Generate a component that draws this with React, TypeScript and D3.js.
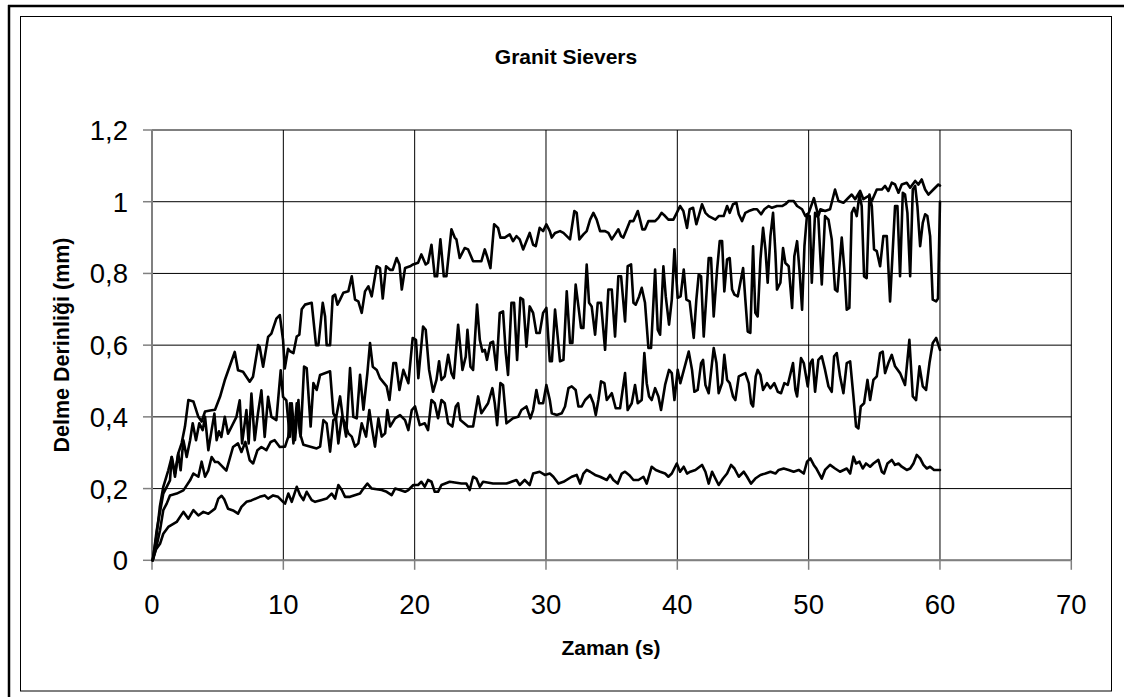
import React from "react";
import * as d3 from "d3";

const title = "Granit Sievers";
const xTitle = "Zaman (s)";
const yTitle = "Delme Derinliği (mm)";
const xTicks = [0, 10, 20, 30, 40, 50, 60, 70];
const yTicks = [0, 0.2, 0.4, 0.6, 0.8, 1.0, 1.2];

const series1: [number, number][] = [[0.05,0],[0.1,0.01],[0.36,0.084],[0.86,0.186],[1.37,0.223],[1.5,0.288],[1.75,0.233],[2.0,0.298],[2.26,0.327],[2.51,0.373],[2.77,0.447],[3.15,0.443],[3.53,0.40],[3.78,0.387],[4.04,0.415],[4.42,0.418],[4.8,0.42],[5.18,0.456],[5.54,0.502],[6.3,0.581],[6.55,0.53],[6.93,0.526],[7.44,0.498],[7.69,0.512],[8.08,0.60],[8.2,0.595],[8.46,0.54],[8.84,0.623],[9.09,0.632],[9.47,0.674],[9.73,0.684],[9.98,0.614],[10.11,0.535],[10.36,0.59],[10.51,0.583],[10.77,0.578],[11.02,0.624],[11.22,0.629],[11.4,0.70],[11.65,0.713],[12.16,0.718],[12.49,0.60],[12.67,0.60],[13.0,0.718],[13.18,0.68],[13.3,0.60],[13.56,0.60],[13.76,0.736],[13.94,0.741],[14.12,0.713],[14.32,0.727],[14.57,0.746],[14.95,0.75],[15.21,0.792],[15.46,0.727],[15.71,0.722],[15.97,0.69],[16.22,0.75],[16.48,0.764],[16.73,0.736],[17.11,0.82],[17.36,0.815],[17.57,0.73],[17.82,0.82],[18.13,0.81],[18.33,0.81],[18.63,0.843],[18.84,0.825],[19.02,0.755],[19.27,0.815],[19.65,0.82],[19.88,0.825],[20.26,0.83],[20.51,0.853],[20.84,0.825],[21.02,0.83],[21.28,0.88],[21.53,0.792],[21.71,0.792],[21.96,0.895],[22.22,0.792],[22.42,0.792],[22.8,0.923],[23.05,0.90],[23.18,0.895],[23.43,0.843],[23.81,0.871],[24.07,0.867],[24.45,0.834],[25.08,0.834],[25.34,0.867],[25.51,0.848],[25.77,0.815],[26.05,0.937],[26.35,0.927],[26.53,0.90],[26.86,0.90],[27.24,0.909],[27.49,0.89],[27.75,0.904],[28.0,0.895],[28.26,0.867],[28.51,0.89],[28.76,0.913],[29.02,0.88],[29.22,0.876],[29.52,0.927],[29.78,0.918],[30.03,0.937],[30.29,0.918],[30.44,0.90],[30.69,0.913],[31.07,0.918],[31.33,0.913],[31.58,0.904],[31.83,0.895],[32.16,0.974],[32.34,0.969],[32.54,0.895],[32.85,0.909],[33.1,0.918],[33.36,0.95],[33.61,0.969],[33.86,0.95],[34.12,0.918],[34.5,0.918],[34.75,0.913],[35.01,0.895],[35.26,0.909],[35.51,0.923],[35.72,0.904],[35.89,0.90],[36.15,0.923],[36.4,0.946],[36.66,0.946],[36.99,0.974],[37.16,0.95],[37.34,0.923],[37.54,0.923],[37.8,0.946],[38.31,0.946],[38.56,0.955],[38.81,0.969],[39.07,0.96],[39.32,0.95],[39.7,0.95],[39.96,0.969],[40.21,0.988],[40.46,0.974],[40.74,0.927],[40.94,0.979],[41.2,0.983],[41.45,0.937],[41.63,0.96],[41.88,0.993],[42.14,0.969],[42.39,0.96],[42.9,0.95],[43.15,0.96],[43.53,0.96],[43.79,0.988],[43.99,0.969],[44.24,0.993],[44.5,0.997],[44.68,0.965],[44.93,0.946],[45.18,0.969],[45.44,0.974],[45.82,0.979],[46.07,0.979],[46.38,0.965],[46.63,0.979],[46.96,0.988],[47.21,0.983],[47.59,0.988],[47.98,0.988],[48.23,0.993],[48.48,1.002],[48.86,1.002],[49.12,0.988],[49.5,0.979],[49.75,0.96],[50.01,0.969],[50.4,1.01],[50.74,0.96],[50.9,0.979],[51.25,0.974],[51.63,0.979],[52.01,1.034],[52.27,1.002],[52.65,0.997],[53.03,1.011],[53.28,1.02],[53.54,1.007],[53.92,1.03],[54.17,1.007],[54.55,1.016],[54.81,1.002],[55.19,1.034],[55.57,1.034],[55.82,1.044],[56.07,1.03],[56.33,1.053],[56.58,1.048],[56.84,1.025],[57.09,1.048],[57.47,1.053],[57.73,1.039],[58.11,1.058],[58.36,1.048],[58.61,1.062],[58.87,1.034],[59.12,1.02],[59.5,1.034],[59.88,1.048],[60.0,1.045]];

const series2: [number, number][] = [[0.05,0],[0.35,0.07],[0.6,0.15],[0.86,0.205],[1.24,0.251],[1.5,0.288],[1.75,0.242],[2.0,0.298],[2.18,0.251],[2.39,0.335],[2.64,0.288],[2.9,0.335],[3.1,0.382],[3.35,0.335],[3.6,0.382],[3.86,0.363],[4.04,0.40],[4.29,0.307],[4.54,0.363],[4.75,0.409],[4.92,0.335],[5.1,0.36],[5.28,0.344],[5.54,0.40],[5.79,0.353],[6.43,0.40],[6.68,0.446],[6.86,0.326],[7.19,0.419],[7.36,0.326],[7.57,0.465],[7.82,0.335],[8.07,0.41],[8.33,0.474],[8.58,0.344],[8.84,0.456],[9.09,0.40],[9.47,0.391],[9.8,0.53],[9.98,0.456],[10.23,0.446],[10.49,0.344],[10.64,0.438],[10.89,0.335],[11.15,0.447],[11.32,0.345],[11.58,0.54],[11.78,0.536],[12.08,0.373],[12.29,0.494],[12.54,0.475],[12.8,0.517],[13.56,0.527],[13.81,0.41],[14.01,0.396],[14.32,0.457],[14.52,0.40],[14.78,0.345],[15.08,0.536],[15.33,0.40],[15.59,0.396],[15.84,0.517],[16.1,0.42],[16.4,0.522],[16.6,0.606],[16.81,0.54],[17.11,0.531],[17.36,0.508],[17.87,0.485],[18.08,0.447],[18.38,0.55],[18.58,0.55],[18.84,0.475],[19.14,0.531],[19.52,0.494],[19.85,0.62],[20.1,0.615],[20.28,0.508],[20.64,0.652],[20.84,0.643],[21.1,0.531],[21.4,0.47],[21.66,0.503],[21.86,0.555],[22.04,0.503],[22.29,0.513],[22.55,0.573],[22.8,0.522],[22.98,0.508],[23.31,0.657],[23.64,0.531],[23.89,0.568],[24.02,0.643],[24.25,0.54],[24.45,0.531],[24.75,0.713],[24.96,0.615],[25.16,0.582],[25.34,0.587],[25.51,0.559],[25.77,0.606],[25.97,0.61],[26.23,0.531],[26.48,0.69],[26.73,0.694],[26.94,0.578],[27.11,0.517],[27.37,0.718],[27.57,0.718],[27.8,0.559],[28.05,0.732],[28.26,0.727],[28.51,0.596],[28.76,0.708],[29.02,0.69],[29.27,0.634],[29.52,0.634],[29.78,0.69],[30.03,0.704],[30.29,0.555],[30.45,0.555],[30.69,0.699],[30.89,0.624],[31.07,0.555],[31.33,0.559],[31.58,0.75],[31.83,0.606],[32.01,0.606],[32.26,0.769],[32.47,0.708],[32.67,0.648],[32.85,0.648],[33.1,0.825],[33.28,0.718],[33.48,0.708],[33.74,0.629],[33.94,0.718],[34.19,0.718],[34.5,0.587],[34.75,0.755],[35.01,0.755],[35.26,0.624],[35.51,0.792],[35.72,0.792],[36.02,0.666],[36.22,0.82],[36.48,0.825],[36.66,0.718],[36.83,0.713],[37.09,0.736],[37.29,0.76],[37.54,0.718],[37.8,0.592],[38.0,0.592],[38.31,0.811],[38.51,0.643],[38.69,0.629],[38.94,0.82],[39.12,0.736],[39.37,0.657],[39.58,0.727],[39.78,0.867],[40.03,0.732],[40.25,0.736],[40.49,0.811],[40.69,0.727],[40.94,0.722],[41.25,0.62],[41.45,0.727],[41.63,0.797],[41.81,0.792],[42.01,0.624],[42.21,0.736],[42.39,0.843],[42.57,0.843],[42.77,0.68],[43.03,0.811],[43.23,0.89],[43.41,0.89],[43.58,0.75],[43.79,0.839],[43.99,0.843],[44.17,0.755],[44.35,0.741],[44.6,0.736],[45.01,0.815],[45.18,0.727],[45.36,0.638],[45.56,0.634],[45.77,0.876],[45.94,0.69],[46.12,0.68],[46.33,0.839],[46.53,0.927],[46.71,0.867],[46.88,0.774],[47.09,0.904],[47.29,0.969],[47.47,0.857],[47.59,0.755],[47.85,0.774],[48.05,0.871],[48.23,0.829],[48.48,0.82],[48.74,0.704],[48.91,0.848],[49.12,0.89],[49.32,0.801],[49.5,0.699],[49.68,0.876],[49.88,0.965],[50.08,0.96],[50.24,0.774],[50.49,0.969],[50.74,0.955],[51.0,0.769],[51.25,0.96],[51.51,0.95],[51.76,0.895],[52.01,0.755],[52.19,0.75],[52.52,0.90],[52.72,0.811],[52.9,0.699],[53.1,0.704],[53.28,0.969],[53.46,0.983],[53.66,0.96],[53.87,1.02],[54.04,0.988],[54.22,0.792],[54.42,0.787],[54.63,1.02],[54.81,0.988],[54.98,0.867],[55.19,0.862],[55.44,0.82],[55.69,0.904],[55.95,0.904],[56.2,0.722],[56.58,0.988],[56.76,0.988],[56.96,0.792],[57.17,1.025],[57.34,1.02],[57.52,0.969],[57.73,0.792],[57.93,1.034],[58.11,1.044],[58.28,0.988],[58.49,0.876],[58.69,0.941],[58.87,0.965],[59.04,0.96],[59.25,0.904],[59.45,0.727],[59.71,0.722],[59.85,0.73],[60.0,1.0]];

const series3: [number, number][] = [[0.05,0],[0.35,0.04],[0.61,0.084],[0.86,0.14],[1.12,0.158],[1.37,0.181],[1.88,0.186],[2.39,0.195],[2.9,0.223],[3.15,0.242],[3.53,0.233],[3.78,0.275],[4.04,0.233],[4.29,0.251],[4.54,0.288],[4.8,0.274],[5.03,0.274],[5.66,0.25],[6.17,0.316],[6.55,0.326],[6.81,0.302],[7.11,0.33],[7.44,0.279],[7.7,0.27],[8.03,0.307],[8.33,0.316],[8.71,0.307],[9.04,0.33],[9.34,0.335],[9.73,0.316],[10.13,0.317],[10.38,0.345],[10.51,0.438],[10.77,0.326],[11.02,0.438],[11.27,0.354],[11.53,0.322],[12.54,0.312],[12.8,0.317],[13.05,0.391],[13.3,0.382],[13.56,0.303],[13.81,0.391],[14.01,0.396],[14.19,0.326],[14.45,0.40],[14.7,0.382],[14.95,0.354],[15.21,0.345],[15.46,0.317],[15.71,0.326],[15.97,0.382],[16.3,0.345],[16.55,0.419],[16.73,0.373],[16.98,0.317],[17.24,0.396],[17.49,0.345],[17.75,0.354],[17.92,0.419],[18.13,0.373],[18.51,0.396],[18.89,0.405],[19.27,0.391],[19.52,0.363],[19.78,0.419],[20.03,0.429],[20.39,0.377],[20.77,0.382],[21.02,0.363],[21.28,0.447],[21.53,0.438],[21.78,0.396],[22.04,0.447],[22.29,0.438],[22.55,0.382],[22.87,0.373],[23.13,0.429],[23.31,0.438],[23.48,0.391],[24.07,0.373],[24.45,0.373],[24.83,0.457],[25.08,0.41],[25.59,0.438],[25.92,0.48],[26.1,0.438],[26.28,0.377],[26.53,0.494],[26.73,0.489],[26.99,0.382],[27.49,0.396],[27.88,0.40],[28.13,0.419],[28.51,0.429],[28.81,0.396],[29.02,0.419],[29.27,0.475],[29.47,0.438],[29.78,0.438],[30.03,0.489],[30.29,0.447],[30.44,0.41],[30.82,0.405],[31.2,0.41],[31.45,0.429],[31.71,0.48],[31.96,0.485],[32.26,0.475],[32.47,0.429],[32.72,0.429],[32.98,0.447],[33.36,0.461],[33.61,0.438],[33.79,0.405],[33.99,0.447],[34.19,0.499],[34.45,0.494],[34.63,0.447],[35.01,0.466],[35.31,0.424],[35.64,0.424],[36.02,0.522],[36.22,0.419],[36.53,0.438],[36.78,0.489],[36.99,0.438],[37.29,0.447],[37.49,0.578],[37.67,0.494],[37.85,0.457],[38.05,0.447],[38.31,0.48],[38.56,0.457],[38.76,0.419],[39.07,0.489],[39.37,0.531],[39.58,0.522],[39.78,0.447],[40.03,0.531],[40.23,0.494],[40.87,0.582],[41.12,0.531],[41.3,0.47],[41.55,0.475],[41.81,0.55],[41.96,0.559],[42.14,0.489],[42.39,0.466],[42.77,0.592],[42.98,0.55],[43.15,0.466],[43.41,0.494],[43.58,0.573],[43.79,0.503],[43.99,0.494],[44.24,0.457],[44.42,0.447],[44.68,0.513],[45.18,0.522],[45.44,0.494],[45.62,0.438],[45.77,0.429],[45.97,0.513],[46.12,0.531],[46.33,0.517],[46.53,0.475],[46.83,0.494],[47.09,0.48],[47.39,0.494],[47.65,0.47],[47.9,0.466],[48.15,0.494],[48.41,0.489],[48.81,0.55],[48.99,0.475],[49.12,0.457],[49.42,0.564],[49.63,0.55],[49.93,0.485],[50.13,0.55],[50.3,0.56],[50.49,0.47],[50.74,0.559],[51.0,0.569],[51.25,0.531],[51.51,0.485],[51.76,0.47],[51.94,0.569],[52.14,0.578],[52.39,0.513],[52.65,0.466],[52.9,0.55],[53.16,0.555],[53.41,0.457],[53.61,0.373],[53.79,0.368],[53.97,0.429],[54.22,0.438],[54.48,0.503],[54.68,0.447],[54.93,0.503],[55.19,0.513],[55.44,0.578],[55.64,0.582],[55.82,0.522],[56.07,0.55],[56.33,0.573],[56.58,0.541],[56.96,0.522],[57.34,0.489],[57.67,0.615],[57.93,0.457],[58.18,0.447],[58.44,0.541],[58.69,0.485],[58.94,0.475],[59.2,0.55],[59.45,0.606],[59.71,0.62],[60.0,0.587]];

const series4: [number, number][] = [[0.05,0],[0.3,0.03],[0.61,0.046],[0.86,0.074],[1.24,0.093],[1.88,0.107],[2.39,0.135],[2.77,0.116],[3.15,0.14],[3.53,0.125],[3.91,0.135],[4.29,0.13],[4.8,0.144],[5.05,0.172],[5.3,0.18],[5.5,0.17],[5.79,0.144],[6.17,0.139],[6.55,0.13],[6.81,0.149],[7.19,0.163],[7.57,0.167],[8.2,0.177],[8.58,0.181],[8.84,0.172],[9.22,0.181],[9.6,0.177],[9.98,0.163],[10.13,0.158],[10.38,0.186],[10.64,0.163],[11.02,0.205],[11.27,0.182],[11.53,0.168],[11.78,0.191],[12.16,0.168],[12.42,0.163],[12.92,0.168],[13.3,0.172],[13.68,0.186],[13.94,0.172],[14.19,0.21],[14.45,0.196],[14.7,0.177],[15.08,0.177],[15.84,0.186],[16.1,0.20],[16.4,0.214],[16.73,0.20],[17.49,0.196],[17.87,0.191],[18.25,0.182],[18.51,0.20],[18.89,0.196],[19.27,0.191],[19.52,0.196],[19.9,0.21],[20.26,0.21],[20.51,0.219],[20.77,0.205],[21.02,0.224],[21.28,0.219],[21.53,0.191],[21.78,0.191],[22.04,0.21],[22.67,0.219],[23.56,0.214],[23.94,0.214],[24.19,0.196],[24.45,0.233],[24.7,0.228],[24.96,0.205],[25.21,0.219],[25.97,0.214],[26.99,0.214],[27.37,0.219],[27.75,0.224],[28.0,0.21],[28.38,0.224],[28.76,0.21],[29.02,0.242],[29.52,0.247],[29.91,0.238],[30.29,0.242],[30.56,0.233],[30.95,0.214],[31.33,0.219],[31.96,0.233],[32.34,0.238],[32.6,0.214],[32.85,0.242],[33.1,0.252],[33.36,0.247],[33.74,0.238],[34.12,0.233],[34.63,0.224],[34.88,0.238],[35.13,0.224],[35.46,0.214],[35.77,0.242],[36.02,0.247],[36.33,0.238],[36.66,0.224],[37.04,0.224],[37.42,0.233],[37.67,0.214],[38.05,0.261],[38.36,0.252],[38.69,0.247],[39.07,0.242],[39.32,0.233],[39.58,0.242],[39.96,0.27],[40.21,0.247],[40.49,0.261],[40.74,0.242],[40.99,0.247],[41.38,0.252],[41.88,0.266],[42.14,0.247],[42.39,0.214],[42.65,0.247],[42.9,0.228],[43.15,0.21],[43.48,0.228],[43.79,0.242],[44.09,0.266],[44.35,0.256],[44.68,0.233],[45.06,0.247],[45.31,0.233],[45.61,0.214],[45.94,0.228],[46.33,0.238],[46.71,0.242],[47.09,0.247],[47.47,0.242],[47.72,0.252],[48.1,0.256],[48.48,0.252],[48.86,0.247],[49.24,0.252],[49.63,0.242],[49.88,0.275],[50.13,0.284],[50.39,0.266],[50.6,0.255],[51.0,0.228],[51.25,0.252],[51.63,0.266],[52.01,0.256],[52.39,0.247],[52.9,0.256],[53.16,0.242],[53.41,0.289],[53.61,0.27],[53.87,0.275],[54.12,0.256],[54.37,0.27],[54.68,0.261],[54.93,0.27],[55.31,0.28],[55.57,0.247],[55.74,0.242],[56.0,0.27],[56.33,0.28],[56.58,0.266],[56.84,0.27],[57.09,0.261],[57.47,0.252],[57.73,0.256],[57.98,0.27],[58.23,0.294],[58.49,0.284],[58.74,0.266],[59.0,0.256],[59.25,0.261],[59.55,0.252],[60.0,0.252]];

const allSeries = [series1, series2, series3, series4];

const W = 1124;
const H = 697;
const font = "Arial, 'Liberation Sans', Helvetica, sans-serif";

export default function App() {
  const x = d3.scaleLinear().domain([0, 70]).range([152, 1071.3]);
  const y = d3.scaleLinear().domain([0, 1.2]).range([560.3, 130]);
  const line = d3
    .line<[number, number]>()
    .x((d) => x(d[0]))
    .y((d) => y(d[1]));
  const fmt = (v: number) => String(Math.round(v * 10) / 10).replace(".", ",");

  return (
    <svg
      width={W}
      height={H}
      style={{ position: "absolute", left: 0, top: 0, display: "block", background: "#fff" }}
    >
      <rect x={0} y={0} width={W} height={H} fill="#fff" />
      {/* outer frame (partly cropped) */}
      <line x1={9} y1={5} x2={9} y2={H} stroke="#000" strokeWidth={2.5} />
      <line x1={8} y1={6} x2={W} y2={6} stroke="#000" strokeWidth={2.5} />
      <rect x={20.5} y={16.5} width={1091} height={674.5} fill="none" stroke="#000" strokeWidth={1} />

      {/* grid */}
      {yTicks.map((t) => (
        <line key={"gy" + t} x1={x(0)} x2={x(70)} y1={y(t)} y2={y(t)} stroke="#000" strokeWidth={1} />
      ))}
      {xTicks.map((t) => (
        <line key={"gx" + t} x1={x(t)} x2={x(t)} y1={y(0)} y2={y(1.2)} stroke="#000" strokeWidth={1} />
      ))}
      {/* axes */}
      <line x1={x(0)} x2={x(70)} y1={y(0)} y2={y(0)} stroke="#808080" strokeWidth={2} />
      <line x1={x(0)} x2={x(0)} y1={y(0)} y2={y(1.2)} stroke="#808080" strokeWidth={2} />
      {yTicks.map((t) => (
        <line key={"ty" + t} x1={x(0) - 9} x2={x(0)} y1={y(t)} y2={y(t)} stroke="#808080" strokeWidth={1.5} />
      ))}
      {xTicks.map((t) => (
        <line key={"tx" + t} x1={x(t)} x2={x(t)} y1={y(0)} y2={y(0) + 9.5} stroke="#808080" strokeWidth={1.5} />
      ))}

      {/* series */}
      {allSeries.map((s, i) => (
        <path
          key={"s" + i}
          d={line(s) || ""}
          fill="none"
          stroke="#000"
          strokeWidth={2.6}
          strokeLinejoin="round"
          strokeLinecap="round"
        />
      ))}

      {/* tick labels */}
      {yTicks.map((t) => (
        <text key={"ly" + t} x={128} y={y(t) + 10} textAnchor="end" fontFamily={font} fontSize={27.5} fill="#000">
          {fmt(t)}
        </text>
      ))}
      {xTicks.map((t) => (
        <text key={"lx" + t} x={x(t)} y={614} textAnchor="middle" fontFamily={font} fontSize={27.5} fill="#000">
          {t}
        </text>
      ))}

      {/* titles */}
      <text x={566} y={64} textAnchor="middle" fontFamily={font} fontSize={21} fontWeight="bold">
        {title}
      </text>
      <text x={611} y={655} textAnchor="middle" fontFamily={font} fontSize={21} fontWeight="bold">
        {xTitle}
      </text>
      <text
        transform={`translate(69,345) rotate(-90)`}
        textAnchor="middle"
        fontFamily={font}
        fontSize={21.5}
        fontWeight="bold"
      >
        {yTitle}
      </text>
    </svg>
  );
}
